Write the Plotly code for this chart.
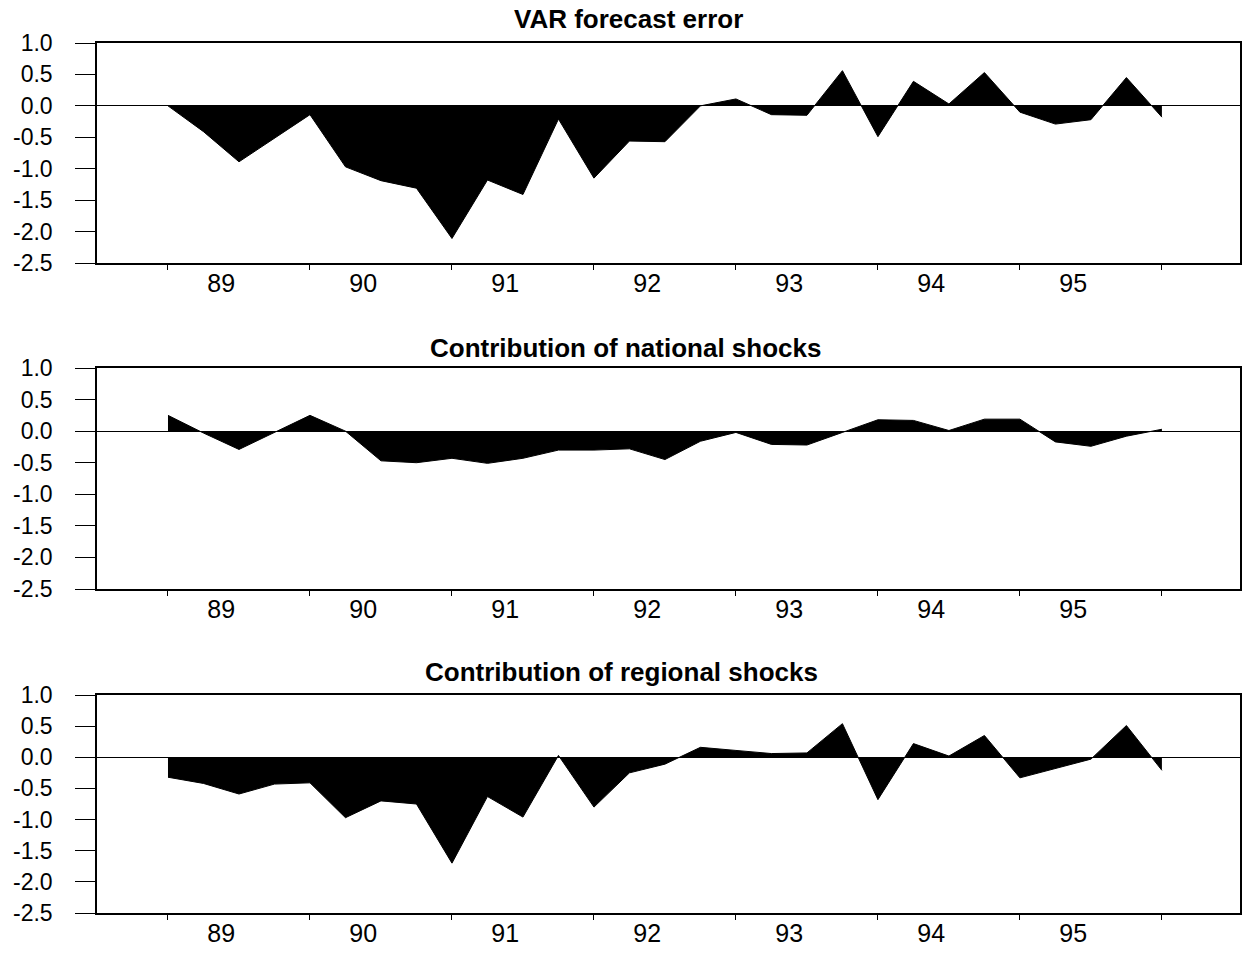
import plotly.graph_objects as go

# ---- data (quarterly, 1989Q1 .. 1996Q1) ----
years = [1989, 1990, 1991, 1992, 1993, 1994, 1995, 1996]
quarters = [y + q / 4 for y in years for q in range(4)][:29]

var_forecast_error = [0.0, -0.41, -0.89, -0.52, -0.14, -0.97, -1.19, -1.31, -2.11, -1.18,
                      -1.41, -0.21, -1.15, -0.56, -0.57, 0.0, 0.11, -0.14, -0.15, 0.56,
                      -0.49, 0.39, 0.03, 0.53, -0.10, -0.29, -0.22, 0.45, -0.18]
national_shocks = [0.25, -0.03, -0.29, -0.02, 0.25, 0.0, -0.47, -0.50, -0.43, -0.51,
                   -0.43, -0.30, -0.30, -0.28, -0.45, -0.16, -0.02, -0.21, -0.22, -0.02,
                   0.18, 0.17, 0.01, 0.19, 0.19, -0.17, -0.24, -0.08, 0.03]
regional_shocks = [-0.32, -0.42, -0.59, -0.43, -0.41, -0.97, -0.70, -0.75, -1.70, -0.63,
                   -0.96, 0.03, -0.80, -0.25, -0.11, 0.16, 0.11, 0.06, 0.07, 0.54,
                   -0.68, 0.22, 0.02, 0.35, -0.33, -0.18, -0.03, 0.51, -0.21]

panel_titles = ["VAR forecast error", "Contribution of national shocks",
                "Contribution of regional shocks"]
year_labels = ["89", "90", "91", "92", "93", "94", "95"]
year_label_pos = [1989.375, 1990.375, 1991.375, 1992.375, 1993.375, 1994.375, 1995.375]
y_tick_vals = [1.0, 0.5, 0.0, -0.5, -1.0, -1.5, -2.0, -2.5]
y_tick_text = ["1.0", "0.5", "0.0", "-0.5", "-1.0", "-1.5", "-2.0", "-2.5"]

series = [var_forecast_error, national_shocks, regional_shocks]

# ---- layout geometry (pixels) ----
W, H = 1243, 953
x_left, x_right = 97, 1240
panels_px = [(43, 263), (368, 589), (695, 913)]  # (top, bottom)
title_px = [(628, 19), (625, 348), (621, 672)]

FONT = "Liberation Sans, Arial, Helvetica, sans-serif"

fig = go.Figure()
for i, vals in enumerate(series):
    n = i + 1
    fig.add_trace(go.Scatter(
        x=quarters, y=vals, mode="lines",
        line=dict(color="black", width=1),
        fill="tozeroy", fillcolor="black",
        xaxis="x" if n == 1 else f"x{n}",
        yaxis="y" if n == 1 else f"y{n}",
        showlegend=False, hoverinfo="skip",
    ))

annotations = []
for i in range(3):
    n = i + 1
    top, bot = panels_px[i]
    xa = dict(
        domain=[x_left / W, x_right / W],
        range=[1988.5, 1996.55],
        anchor="y" if n == 1 else f"y{n}",
        tickmode="array", tickvals=year_label_pos, ticktext=year_labels,
        ticks="", ticklen=0,
        tickfont=dict(family=FONT, size=25, color="black"),
        showgrid=False, zeroline=False,
        showline=True, linecolor="black", linewidth=1.5, mirror=True,
        minor=dict(ticks="outside", ticklen=5, tickwidth=1, tickcolor="black",
                   tickmode="array", tickvals=years, showgrid=False),
        automargin=False, fixedrange=True,
        ticklabelstandoff=-3,
    )
    ya = dict(
        domain=[1 - bot / H, 1 - top / H],
        range=[-2.5, 1.0],
        anchor="x" if n == 1 else f"x{n}",
        tickmode="array", tickvals=y_tick_vals, ticktext=y_tick_text,
        ticks="outside", ticklen=20, tickwidth=1, tickcolor="black",
        tickfont=dict(family=FONT, size=23, color="black"),
        showgrid=False,
        zeroline=True, zerolinecolor="black", zerolinewidth=1,
        showline=True, linecolor="black", linewidth=1.5, mirror=True,
        automargin=False, fixedrange=True,
        ticklabelstandoff=18,
    )
    fig.layout[f"xaxis{'' if n == 1 else n}"] = xa
    fig.layout[f"yaxis{'' if n == 1 else n}"] = ya
    tx, ty = title_px[i]
    annotations.append(dict(
        text=f"<b>{panel_titles[i]}</b>", x=tx / W, y=1 - ty / H,
        xref="paper", yref="paper", xanchor="center", yanchor="middle",
        showarrow=False, font=dict(family=FONT, size=26, color="black"),
    ))

fig.update_layout(
    width=W, height=H,
    margin=dict(l=0, r=0, t=0, b=0, pad=0),
    paper_bgcolor="white", plot_bgcolor="white",
    annotations=annotations,
    showlegend=False,
)

fig.write_html(
    "out.html",
    config={"displayModeBar": False},
    post_script="document.body.style.margin='0';document.body.style.overflow='hidden';",
)
